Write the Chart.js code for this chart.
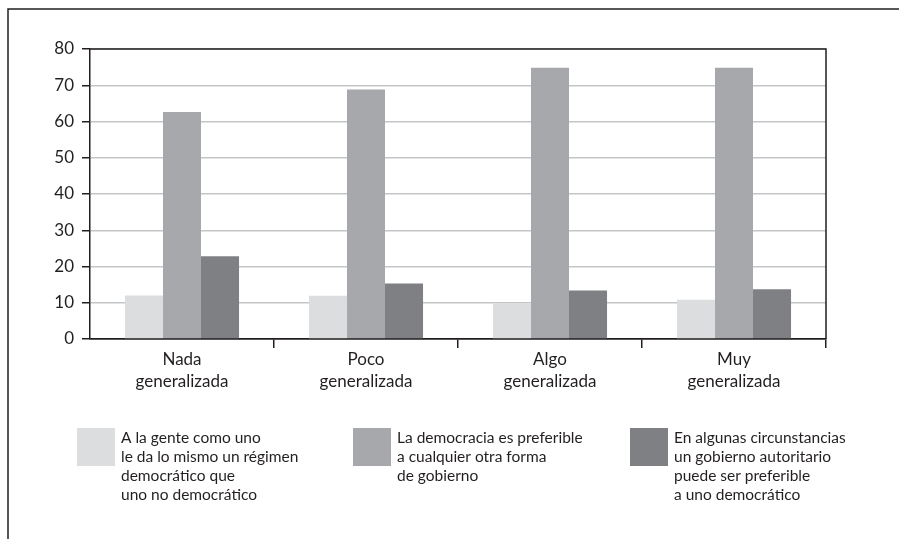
<!DOCTYPE html>
<html>
<head>
<meta charset="utf-8">
<script src="https://cdn.jsdelivr.net/npm/chart.js@4.4.1/dist/chart.umd.min.js"></script>
<style>
  html, body { margin: 0; padding: 0; background: #fff; }
  #wrap { width: 899px; height: 539px; position: relative; }
</style>
</head>
<body>
<div id="wrap"><canvas id="chart" width="899" height="539"></canvas></div>
<script>
// chart data
const categories = [['Nada', 'generalizada'], ['Poco', 'generalizada'], ['Algo', 'generalizada'], ['Muy', 'generalizada']];
const indiferente = [12, 11.9, 9.8, 10.8];
const democracia = [62.6, 68.8, 74.8, 74.8];
const autoritario = [22.8, 15.3, 13.4, 13.7];
const yTicks = [0, 10, 20, 30, 40, 50, 60, 70, 80];

const legendLines = [
    ['A la gente como uno', 'le da lo mismo un régimen', 'democrático que', 'uno no democrático'],
    ['La democracia es preferible', 'a cualquier otra forma', 'de gobierno'],
    ['En algunas circunstancias', 'un gobierno autoritario', 'puede ser preferible', 'a uno democrático']
];
const colors = ['#dcdddf', '#a7a8ab', '#7f8083'];
const legendX = [77, 353, 630];

const FONT = 'Lato, "Open Sans", sans-serif';
const INK = '#231f20';

// outer frame, top/right plot border and the legend
const decorations = {
    id: 'decorations',
    afterDraw(chart) {
        const ctx = chart.ctx;
        const area = chart.chartArea;
        ctx.save();

        // page frame (top and left only)
        ctx.strokeStyle = INK;
        ctx.lineWidth = 1.5;
        ctx.beginPath();
        ctx.moveTo(899, 9);
        ctx.lineTo(8, 9);
        ctx.lineTo(8, 539);
        ctx.stroke();

        // top and right border of plot
        ctx.beginPath();
        ctx.moveTo(area.left, area.top);
        ctx.lineTo(area.right, area.top);
        ctx.lineTo(area.right, area.bottom);
        ctx.stroke();

        // legend
        ctx.font = '15.5px ' + FONT;
        ctx.textBaseline = 'alphabetic';
        ctx.textAlign = 'left';
        chart.data.datasets.forEach((ds, i) => {
            const x = legendX[i];
            ctx.fillStyle = ds.backgroundColor;
            ctx.fillRect(x, 428, 38, 38);
            ctx.fillStyle = INK;
            legendLines[i].forEach((line, j) => {
                ctx.fillText(line, x + 44, 443 + j * 19);
            });
        });
        ctx.restore();
    }
};

new Chart(document.getElementById('chart'), {
    type: 'bar',
    data: {
        labels: categories,
        datasets: [
            { label: legendLines[0].join(' '), data: indiferente, backgroundColor: colors[0] },
            { label: legendLines[1].join(' '), data: democracia, backgroundColor: colors[1] },
            { label: legendLines[2].join(' '), data: autoritario, backgroundColor: colors[2] }
        ]
    },
    options: {
        responsive: false,
        animation: false,
        layout: { padding: { left: 0, right: 73, top: 49, bottom: 0 } },
        datasets: {
            bar: { barPercentage: 1.0, categoryPercentage: 0.62, borderWidth: 0 }
        },
        scales: {
            x: {
                grid: {
                    offset: true,
                    drawOnChartArea: false,
                    drawTicks: true,
                    tickLength: 9,
                    lineWidth: 1.5,
                    color: (c) => (c.index === 0 || c.index === categories.length) ? 'rgba(0,0,0,0)' : INK
                },
                border: { color: INK, width: 1.5 },
                ticks: {
                    color: INK,
                    padding: 0,
                    maxRotation: 0,
                    font: { family: FONT, size: 17, lineHeight: 1.3 }
                },
                afterFit(scale) { scale.height = 200; }
            },
            y: {
                min: 0,
                max: 80,
                afterBuildTicks(scale) { scale.ticks = yTicks.map(v => ({ value: v })); },
                grid: {
                    color: (c) => (c.tick && c.tick.value === 0) ? INK : '#c4c5c8',
                    tickColor: INK,
                    tickLength: 8,
                    lineWidth: 1.5
                },
                border: { color: INK, width: 1.5 },
                ticks: {
                    color: INK,
                    padding: 8,
                    font: { family: FONT, size: 17 }
                },
                afterFit(scale) { scale.width = 90; }
            }
        },
        plugins: {
            legend: { display: false },
            tooltip: { enabled: false }
        }
    },
    plugins: [decorations]
});
</script>
</body>
</html>
